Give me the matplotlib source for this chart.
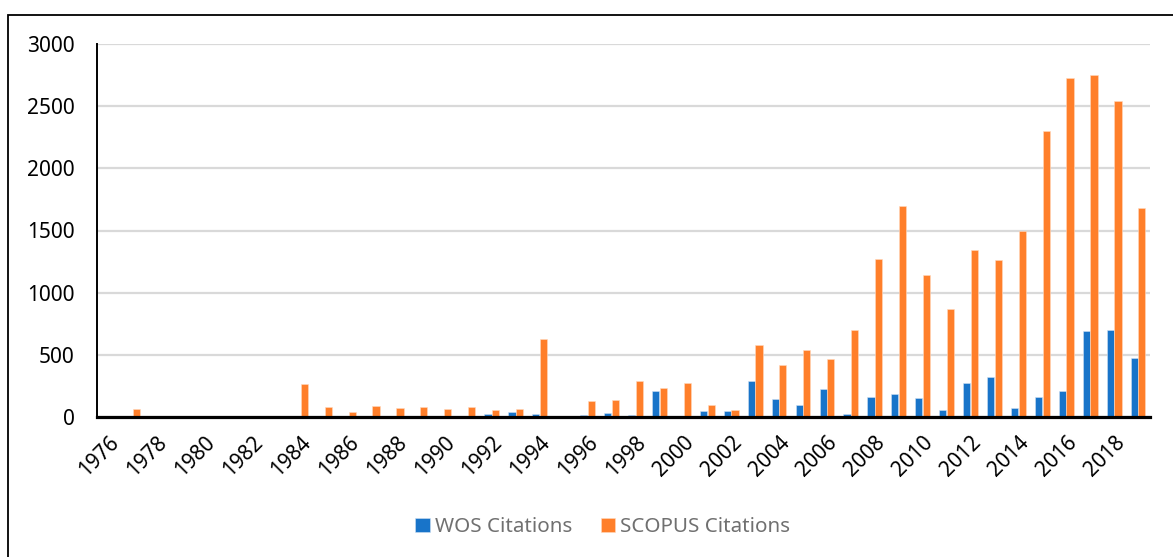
import matplotlib.pyplot as plt
import numpy as np
from matplotlib.patches import Rectangle

plt.rcParams['font.family'] = ['Noto Sans', 'DejaVu Sans']

years = list(range(1976, 2020))
wos = [0, 0, 0, 0, 0, 0, 0, 0, 0, 0, 0, 0, 0, 8, 0, 0, 22, 43, 27, 0, 19, 30,
       19, 207, 10, 46, 46, 290, 142, 97, 223, 22, 159, 183, 153, 56, 272, 320,
       70, 161, 210, 694, 702, 476]
scopus = [0, 64, 0, 0, 0, 0, 0, 0, 263, 80, 37, 88, 70, 80, 65, 78, 54, 64, 627,
          8, 132, 137, 290, 231, 274, 97, 56, 581, 417, 541, 470, 700, 1270, 1700,
          1140, 871, 1342, 1260, 1494, 2300, 2725, 2751, 2540, 1678]
tick_labels = [str(y) for y in years[::2]]

blue = '#1874C9'
orange = '#FF7F2A'

fig = plt.figure(figsize=(11.73, 5.57), dpi=100)
ax = fig.add_axes([97/1173, 140/557, 1053/1173, 373/557])

x = np.arange(len(years))
w = 0.3
ax.bar(x - 0.16, wos, w, color=blue, edgecolor='#cfe0f3', linewidth=0.4, label='WOS Citations', zorder=3)
ax.bar(x + 0.16, scopus, w, color=orange, edgecolor='#ffd9bf', linewidth=0.4, label='SCOPUS Citations', zorder=3)

ax.set_xlim(-0.5, len(years) - 0.5)
ax.set_ylim(0, 3000)
ax.set_yticks(range(0, 3001, 500))
ax.yaxis.grid(True, color='#d9d9d9', linewidth=1.6, zorder=0)
ax.set_xticks(x[::2])
ax.set_xticklabels(tick_labels, rotation=45, ha='right', rotation_mode='anchor')
ax.tick_params(axis='both', length=0, labelsize=15, colors='black')
ax.tick_params(axis='x', pad=11)
ax.tick_params(axis='y', pad=16)

for s in ['top', 'right']:
    ax.spines[s].set_visible(False)
ax.spines['left'].set_linewidth(1.4)
ax.spines['bottom'].set_linewidth(2.3)
ax.spines['bottom'].set_zorder(4)

leg = fig.legend(loc='center', bbox_to_anchor=(0.514, 0.054), ncol=2, frameon=False,
                 fontsize=14.8, handlelength=0.7, handleheight=0.7, handletextpad=0.25,
                 columnspacing=1.4)
for t in leg.get_texts():
    t.set_color('#707070')

# outer frame (cut off at right and bottom)
fig.add_artist(Rectangle((8/1173, -0.2), 1.2, 0.2 + (557-15)/557, transform=fig.transFigure,
                         fill=False, edgecolor='black', linewidth=1.3))

fig.savefig('out.png', dpi=100)
